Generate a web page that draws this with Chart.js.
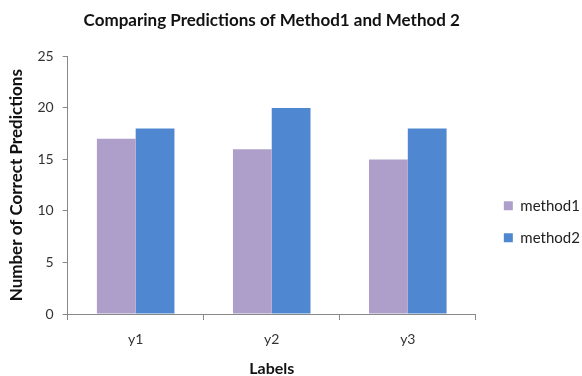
<!DOCTYPE html>
<html>
<head>
<meta charset="utf-8">
<script src="https://cdn.jsdelivr.net/npm/chart.js@4"></script>
<style>
  html, body { margin: 0; padding: 0; background: #fff; }
  #wrap { width: 582px; height: 376px; position: relative; }
</style>
</head>
<body>
<div id="wrap"><canvas id="c" width="582" height="376"></canvas></div>
<script>
const categories = ["y1", "y2", "y3"];
const method1 = [17, 16, 15];
const method2 = [18, 20, 18];
const yTicks = [0, 5, 10, 15, 20, 25];

const FONT = "Lato, 'Open Sans', sans-serif";

// invisible layout box that keeps a gap between the plot area and the legend
const spacer = {
  id: 'spacer',
  beforeInit(chart) {
    const box = {
      position: 'right', weight: 500, fullSize: false, options: {},
      isHorizontal() { return false; },
      update(maxWidth, maxHeight) { this.width = 11; this.height = maxHeight; },
      draw() {}
    };
    Chart.layouts.addBox(chart, box);
  }
};

new Chart(document.getElementById('c'), {
  type: 'bar',
  data: {
    labels: categories,
    datasets: [
      { label: 'method1', data: method1, backgroundColor: '#AD9FC9', borderWidth: 0 },
      { label: 'method2', data: method2, backgroundColor: '#5087D1', borderWidth: 0 }
    ]
  },
  plugins: [spacer],
  options: {
    responsive: false,
    animation: false,
    devicePixelRatio: 1,
    layout: { padding: { left: 6, right: -1, top: 0, bottom: -2 } },
    datasets: { bar: { categoryPercentage: 0.57, barPercentage: 1.0 } },
    plugins: {
      title: {
        display: true,
        fullSize: false,
        text: 'Comparing Predictions of Method1 and Method 2',
        font: { family: FONT, size: 17, weight: 'bold' },
        color: '#111',
        padding: { top: 10, bottom: 26 }
      },
      legend: {
        position: 'right',
        align: 'center',
        title: { display: true, text: ' ', font: { size: 8 }, padding: 28 },
        labels: {
          boxWidth: 9, boxHeight: 9,
          padding: 17,
          font: { family: FONT, size: 15 },
          color: '#222'
        }
      },
      tooltip: { enabled: false }
    },
    scales: {
      x: {
        offset: true,
        grid: { display: true, drawOnChartArea: false, offset: true, tickLength: 6, color: '#888' },
        border: { color: '#888' },
        ticks: { font: { family: FONT, size: 14 }, color: '#333', padding: 11 },
        title: { display: true, text: 'Labels', font: { family: FONT, size: 16, weight: 'bold' }, color: '#111', padding: { top: 0, bottom: 0 } }
      },
      y: {
        min: 0, max: 25,
        afterBuildTicks: (axis) => { axis.ticks = yTicks.map(v => ({ value: v })); },
        grid: { display: true, drawOnChartArea: false, tickLength: 5, color: '#888' },
        border: { color: '#888' },
        ticks: { font: { family: FONT, size: 14 }, color: '#333', padding: 9 },
        title: { display: true, text: 'Number of Correct Predictions', font: { family: FONT, size: 17, weight: 'bold' }, color: '#111', padding: { top: 0, bottom: 2 } }
      }
    }
  }
});
</script>
</body>
</html>
